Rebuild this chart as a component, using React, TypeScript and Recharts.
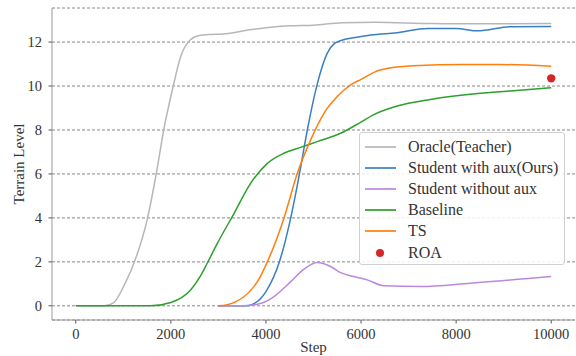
import React from "react";
import { ComposedChart, Line, Scatter, XAxis, YAxis, CartesianGrid } from "recharts";

const FONT = '"Liberation Serif", "Times New Roman", serif';

const xTicks = [0, 2000, 4000, 6000, 8000, 10000];
const yTicks = [0, 2, 4, 6, 8, 10, 12];

// Oracle(Teacher)
const oracleSteps = [0, 600, 800, 1000, 1300, 1500, 1700, 1850, 2050, 2200, 2400, 2600, 2800, 3100, 3700, 4000, 4500, 5000, 5600, 6300, 7500, 8500, 10000];
const oracleLevel = [0, 0, 0.15, 0.85, 2.4, 3.9, 6.1, 8.0, 10.0, 11.3, 12.08, 12.3, 12.34, 12.37, 12.57, 12.65, 12.74, 12.77, 12.88, 12.9, 12.84, 12.83, 12.84];

// Student with aux(Ours)
const oursSteps = [3000, 3600, 3700, 4000, 4290, 4500, 4700, 4870, 5080, 5290, 5450, 5550, 6000, 6200, 6750, 7400, 8000, 8450, 9150, 10000];
const oursLevel = [0, 0, 0.05, 0.65, 2.05, 3.8, 5.95, 8.0, 10.1, 11.5, 11.95, 12.05, 12.25, 12.32, 12.42, 12.62, 12.62, 12.51, 12.7, 12.71];

// Student without aux
const noAuxSteps = [3000, 3500, 3900, 4170, 4520, 4800, 5080, 5360, 5570, 5850, 6130, 6480, 7250, 8300, 10000];
const noAuxLevel = [0, 0, 0.12, 0.42, 1.1, 1.67, 1.97, 1.79, 1.51, 1.33, 1.18, 0.91, 0.88, 1.03, 1.33];

// Baseline
const baseSteps = [0, 1575, 2000, 2420, 2630, 2770, 2980, 3330, 3680, 4030, 4380, 4730, 5080, 5570, 5990, 6270, 6760, 7460, 8510, 9210, 10000];
const baseLevel = [0, 0, 0.15, 0.73, 1.38, 1.96, 2.85, 4.21, 5.58, 6.48, 6.94, 7.21, 7.47, 7.85, 8.35, 8.7, 9.09, 9.39, 9.67, 9.79, 9.92];

// TS
const tsSteps = [3000, 3190, 3820, 4050, 4380, 4660, 4940, 5220, 5500, 5780, 6000, 6400, 7100, 8150, 8850, 10000];
const tsLevel = [0, 0.05, 1.1, 2.1, 4.0, 6.03, 7.55, 8.76, 9.52, 10.05, 10.3, 10.73, 10.92, 10.98, 10.98, 10.9];

// ROA
const roaSteps = [10000];
const roaLevel = [10.35];

const toPoints = (steps: number[], levels: number[]) => steps.map((x, i) => ({ x, y: levels[i] }));

const lines = [
  { name: "Oracle(Teacher)", color: "#b4b7bc", data: toPoints(oracleSteps, oracleLevel) },
  { name: "Student with aux(Ours)", color: "#3a7fc1", data: toPoints(oursSteps, oursLevel) },
  { name: "Student without aux", color: "#bb88dd", data: toPoints(noAuxSteps, noAuxLevel) },
  { name: "Baseline", color: "#2ca02c", data: toPoints(baseSteps, baseLevel) },
  { name: "TS", color: "#ff7f0e", data: toPoints(tsSteps, tsLevel) },
];
const roaColor = "#d62728";

const textStyle = { fontFamily: FONT, fill: "#333" };

function XTick({ x, y, payload }: any) {
  return (
    <text x={x} y={y + 13.5} textAnchor="middle" fontSize={14.5} style={textStyle}>
      {payload.value}
    </text>
  );
}

function YTick({ x, y, payload }: any) {
  return (
    <text x={x - 4.5} y={y + 5} textAnchor="end" fontSize={14.5} style={textStyle}>
      {payload.value}
    </text>
  );
}

function LegendBox() {
  return (
    <div
      style={{
        position: "absolute",
        left: 359,
        top: 132,
        width: 206,
        height: 133,
        border: "1px solid #d0d0d0",
        borderRadius: 3,
        background: "rgba(255,255,255,0.85)",
        fontFamily: FONT,
        fontSize: 16,
        color: "#333",
        paddingTop: 3,
        boxSizing: "border-box",
      }}
    >
      {lines.map((s) => (
        <div key={s.name} style={{ display: "flex", alignItems: "center", height: 21.2 }}>
          <span style={{ display: "inline-block", flex: "none", width: 31, height: 2, marginLeft: 5, background: s.color, opacity: 0.85 }} />
          <span style={{ marginLeft: 12, whiteSpace: "nowrap" }}>{s.name}</span>
        </div>
      ))}
      <div style={{ display: "flex", alignItems: "center", height: 21.2 }}>
        <span style={{ display: "inline-block", flex: "none", width: 8, height: 8, borderRadius: 4, marginLeft: 16, background: roaColor }} />
        <span style={{ marginLeft: 24 }}>ROA</span>
      </div>
    </div>
  );
}

export default function App() {
  return (
    <div style={{ position: "absolute", left: 0, top: 0, width: 576, height: 356, background: "#fff", fontFamily: FONT }}>
      <ComposedChart width={576} height={356} margin={{ top: 8, right: 1, bottom: 0, left: 0 }}>
        <CartesianGrid vertical={false} stroke="#888" strokeDasharray="3 2" />
        <XAxis
          dataKey="x"
          type="number"
          domain={[-500, 10500]}
          ticks={xTicks}
          height={36}
          tickLine={{ stroke: "#555" }}
          tickSize={3.5}
          axisLine={{ stroke: "#999" }}
          tick={<XTick />}
          allowDataOverflow
          label={({ viewBox }: any) => (
            <text x={viewBox.x + viewBox.width / 2} y={352} textAnchor="middle" fontSize={15} style={textStyle}>
              Step
            </text>
          )}
        />
        <XAxis xAxisId="top" orientation="top" type="number" domain={[0, 1]} height={0} tick={false} tickLine={false} axisLine={{ stroke: "#999" }} />
        <YAxis
          dataKey="y"
          type="number"
          domain={[-0.645, 13.55]}
          ticks={yTicks}
          width={52}
          tickLine={{ stroke: "#555" }}
          tickSize={3.5}
          axisLine={{ stroke: "#999" }}
          tick={<YTick />}
          allowDataOverflow
          label={({ viewBox }: any) => (
            <text
              x={19}
              y={viewBox.y + viewBox.height / 2}
              transform={`rotate(-90, 19, ${viewBox.y + viewBox.height / 2})`}
              textAnchor="middle"
              dominantBaseline="central"
              fontSize={15}
              style={textStyle}
            >
              Terrain Level
            </text>
          )}
        />
        <YAxis yAxisId="right" orientation="right" type="number" domain={[0, 1]} width={0} tick={false} tickLine={false} axisLine={{ stroke: "#999" }} />
        {lines.map((s) => (
          <Line
            key={s.name}
            data={s.data}
            dataKey="y"
            name={s.name}
            type="monotone"
            stroke={s.color}
            strokeWidth={1.5}
            dot={false}
            isAnimationActive={false}
          />
        ))}
        <Scatter
          data={toPoints(roaSteps, roaLevel)}
          name="ROA"
          fill={roaColor}
          isAnimationActive={false}
          shape={(p: any) => <circle cx={p.cx} cy={p.cy} r={4.2} fill={roaColor} />}
        />
      </ComposedChart>
      <LegendBox />
    </div>
  );
}
